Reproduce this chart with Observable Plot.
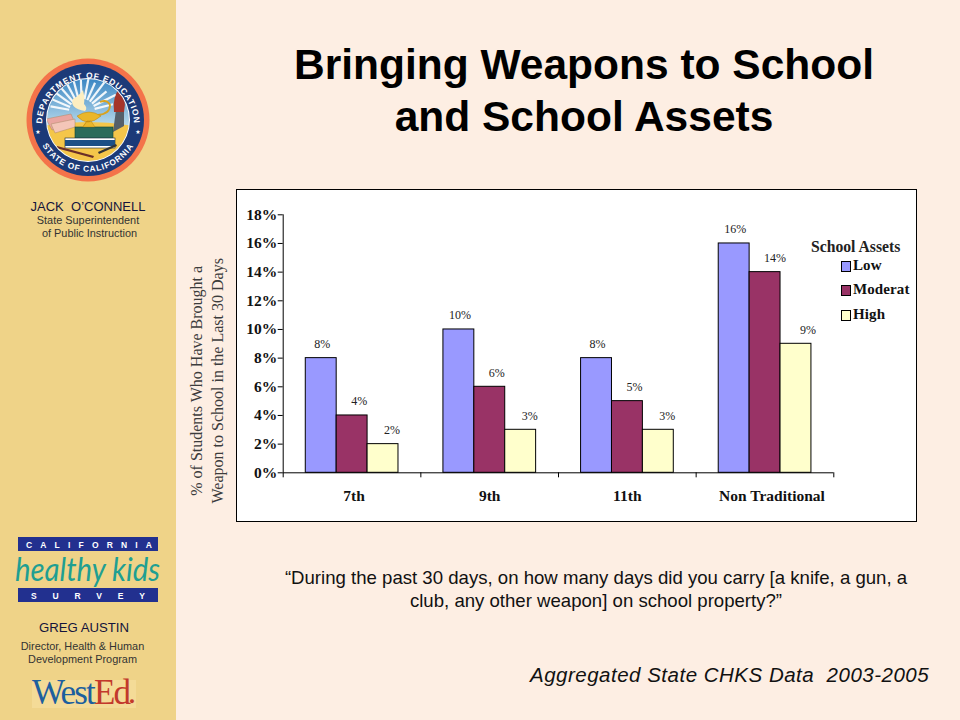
<!DOCTYPE html>
<html>
<head>
<meta charset="utf-8">
<script src="https://cdn.jsdelivr.net/npm/d3@7"></script>
<script src="https://cdn.jsdelivr.net/npm/@observablehq/plot@0.6"></script>
<style>
  html, body { margin: 0; padding: 0; }
  body { width: 960px; height: 720px; background: #fdeee3; position: relative; overflow: hidden; font-family: "Liberation Sans", Arial, sans-serif; color: #000; }
  .abs { position: absolute; white-space: pre; }
  .c { text-align: center; }
  #side { left: 0; top: 0; width: 176px; height: 720px; background: #efd388; }
  #box { left: 236px; top: 189px; width: 679px; height: 331px; background: #fff; border: 1px solid #000; }
  #chart { left: 186px; top: 189px; }
  .serifb { font-family: "Liberation Serif", serif; font-weight: bold; color: #111; }
  .swatch { width: 8px; height: 9px; border: 1px solid #000; }
</style>
</head>
<body>
<div class="abs" id="side"></div>

<svg class="abs" id="seal" style="left:18px;top:50px" width="140" height="140" viewBox="-70 -70 140 140"></svg>

<div class="abs c" style="left:0;width:176px;top:200px;font-size:13px;line-height:14px;color:#14143c">JACK  O’CONNELL</div>
<div class="abs c" style="left:0;width:176px;top:214px;font-size:10.9px;line-height:13px;color:#333">State Superintendent
 of Public Instruction</div>

<svg class="abs" id="chks" style="left:10px;top:530px;overflow:visible" width="160" height="80" viewBox="10 530 160 80">
  <rect x="18" y="537" width="140" height="14" fill="#22308f"/>
  <rect x="18" y="588" width="140" height="14" fill="#22308f"/>
  <text x="26" y="547.5" textLength="126" lengthAdjust="spacing" fill="#fff" font-size="8.5" font-weight="bold" font-family="Liberation Sans">CALIFORNIA</text>
  <text x="31" y="598.5" textLength="114" lengthAdjust="spacing" fill="#fff" font-size="8.5" font-weight="bold" font-family="Liberation Sans">SURVEY</text>
  <text x="15" y="581" textLength="145" lengthAdjust="spacingAndGlyphs" fill="#1f9f92" font-size="33" font-style="italic" font-family="Lato, 'Open Sans', sans-serif">healthy kids</text>
</svg>

<div class="abs c" style="left:0;width:168px;top:621px;font-size:13.2px;line-height:14px;color:#14143c">GREG AUSTIN</div>
<div class="abs c" style="left:0;width:165px;top:640px;font-size:10.9px;line-height:13px;color:#333">Director, Health &amp; Human
Development Program</div>

<div class="abs" style="left:32px;top:680px;width:104px;height:28px;background:#f4db97"></div>
<div class="abs" style="left:32px;top:675px;font-family:'Liberation Serif',serif;font-size:35px;line-height:36px;letter-spacing:-1.8px;color:#1d5f9e">West<span style="color:#c2392c">Ed</span><span style="font-size:9px;color:#c2392c;letter-spacing:0">●</span></div>

<div class="abs c" style="left:284px;width:600px;top:39px;font-size:42.5px;font-weight:bold;line-height:52px">Bringing Weapons to School
and School Assets</div>

<div class="abs" id="box"></div>
<div class="abs" id="chart"></div>
<div id="legend"></div>

<div class="abs c" style="left:246px;width:700px;top:566px;font-size:18.6px;line-height:23px;color:#111">“During the past 30 days, on how many days did you carry [a knife, a gun, a
club, any other weapon] on school property?”</div>

<div class="abs" style="left:530px;top:663px;font-size:20.5px;line-height:24px;font-style:italic;letter-spacing:0.5px;color:#111">Aggregated State CHKS Data  2003-2005</div>

<script>
// ---------- Data ----------
const grades = ["7th", "9th", "11th", "Non Traditional"];
const low = [8, 10, 8, 16];
const moderate = [4, 6, 5, 14];
const high = [2, 3, 3, 9];
const seriesNames = ["Low", "Moderat", "High"];
const seriesColors = ["#9999ff", "#993366", "#ffffcc"];
const yTicks = [0, 2, 4, 6, 8, 10, 12, 14, 16, 18];
const yLabel = "% of Students Who Have Brought a\nWeapon to School in the Last 30 Days";
const legendTitle = "School Assets";

// ---------- Table ----------
const rows = [low, moderate, high].flatMap((values, s) =>
  values.map((value, g) => ({grade: grades[g], g, s, value, series: seriesNames[s]}))
);

// ---------- Layout ----------
const serif = '"Liberation Serif", "Times New Roman", serif';
const W = 735, H = 333, mL = 96.7, mR = 87.7, mT = 25.3, mB = 49.7;
const bandPx = (W - mL - mR) / grades.length;
const barStart = 0.164, barWidth = 0.2245;       // fractions of a category band
const nudge = d => (d.s === 0 ? 1 : d.s === 1 ? 7 : 9) + (d.g === 3 && d.s > 0 ? 3 : 0);  // label offsets, px

const chart = Plot.plot({
  width: W, height: H,
  marginLeft: mL, marginRight: mR, marginTop: mT, marginBottom: mB,
  style: {background: "transparent", fontFamily: serif, overflow: "visible"},
  x: {domain: [0, grades.length], axis: null},
  y: {domain: [0, 18], axis: null},
  marks: [
    Plot.rectY(rows, {
      x1: d => d.g + barStart + d.s * barWidth,
      x2: d => d.g + barStart + (d.s + 1) * barWidth,
      y1: 0, y2: "value",
      fill: d => seriesColors[d.s],
      stroke: "#000", strokeWidth: 1
    }),
    Plot.ruleX([0], {y1: 0, y2: 18, stroke: "#000"}),
    Plot.ruleY([0], {x1: 0, x2: grades.length, stroke: "#000"}),
    Plot.axisY({
      ticks: yTicks, tickFormat: d => d + "%", tickSize: 5, tickPadding: 1,
      label: null, fontSize: 15.5, fontWeight: "bold", fontFamily: serif,
      color: "#111", stroke: "#000", strokeOpacity: 1
    }),
    Plot.ruleX(d3.range(grades.length + 1), {x: d => d, y1: 0, y2: -0.35, stroke: "#000", clip: false}),
    Plot.text(rows, {
      x: d => d.g + barStart + (d.s + 0.5) * barWidth + nudge(d) / bandPx,
      y: "value", text: d => d.value + "%",
      dy: -14, fontSize: 12, fontFamily: serif, fill: "#222"
    }),
    Plot.text(grades, {
      x: (d, i) => i + 0.5 + (i === 3 ? 7 : i === 0 ? 2 : 0) / bandPx,
      y: 0, text: d => d, dy: 23,
      fontSize: 15.5, fontWeight: "bold", fontFamily: serif, fill: "#111"
    }),
    Plot.text([yLabel], {
      frameAnchor: "left", textAnchor: "middle", rotate: -90, text: d => d, dx: -77, dy: 37,
      fontSize: 16, fontFamily: serif, fill: "#3c3c3c", lineHeight: 1.31
    })
  ]
});
document.getElementById("chart").append(chart);

// ---------- Legend ----------
const legend = document.getElementById("legend");
const addDiv = (cls, css, text) => {
  const el = document.createElement("div");
  el.className = "abs " + cls;
  el.style.cssText = css;
  if (text) el.textContent = text;
  legend.append(el);
};
addDiv("serifb", "left:811px;top:239px;font-size:15.7px;line-height:16px;color:#222", legendTitle);
seriesNames.forEach((name, i) => {
  const top = [261, 285, 310][i];
  addDiv("swatch", `left:841px;top:${top}px;background:${seriesColors[i]}`);
  addDiv("serifb", `left:853px;top:${top - 4}px;font-size:15px;line-height:17px;letter-spacing:0.1px`, name);
});

// ---------- Seal artwork (decorative) ----------
const rays = d3.range(-80, 81, 13).map(a => {
  const t = (a - 90) * Math.PI / 180;
  const r1 = 13, r2 = a % 2 ? 38 : 32;
  return `<line x1="${-6 + r1 * Math.cos(t)}" y1="${-8 + r1 * Math.sin(t)}" x2="${-6 + r2 * Math.cos(t)}" y2="${-8 + r2 * Math.sin(t)}" stroke="#fff" stroke-width="2.2" stroke-opacity=".9"/>`;
}).join("");
document.getElementById("seal").innerHTML = `
  <defs>
    <linearGradient id="sky" x1="0" y1="0" x2="0" y2="1"><stop offset="0" stop-color="#2f7fc0"/><stop offset=".65" stop-color="#cde8f2"/></linearGradient>
    <clipPath id="inner"><circle r="41"/></clipPath>
    <path id="topArc" d="M -45 14 A 46 46 0 1 1 45 14"/>
    <path id="botArc" d="M -52.5 6 A 53 53 0 0 0 52.5 6"/>
  </defs>
  <circle r="61.5" fill="#f4734a"/>
  <circle r="56" fill="#1c3a78"/>
  <circle r="42" fill="#fff"/>
  <g clip-path="url(#inner)">
    <rect x="-45" y="-45" width="90" height="90" fill="url(#sky)"/>
    ${rays}
    <path d="M -45 6 Q 0 -2 45 6 L 45 45 L -45 45 Z" fill="#f4c64a"/>
    <path d="M -42 -1 L -17 -6 L -13 3 L -36 10 Z" fill="#eaa6a0" stroke="#a86" stroke-width=".5"/>
    <path d="M -37 4 L -13 -1 L -13 7 L -33 13 Z" fill="#f4c6b8" stroke="#a86" stroke-width=".5"/>
    <path d="M 25 12 L 36 6 L 36 -10 L 28 -10 Z" fill="#55606a"/>
    <path d="M 26 -8 Q 24 -22 32 -33 Q 39 -22 36 -8 Z" fill="#a5342a"/>
    <rect x="-13" y="7" width="38" height="12" fill="#2b6b5a" stroke="#143" stroke-width=".6"/>
    <rect x="-23" y="18" width="50" height="10" fill="#fff" stroke="#123" stroke-width=".6"/>
    <rect x="-23" y="20" width="50" height="6" fill="#1c4f86"/>
    <path d="M -31 26 L 6 36 L 5 38 L -32 28 Z" fill="#6b2f28"/>
    <path d="M 10 32 L 28 24 L 29 26 L 11 34 Z" fill="#333"/>
    <path d="M -10 -3 Q 2 -7 10 -5 Q 22 -6 22 -15 Q 19 -21 12 -18 M 4 6 L -4 6 L -1 2 L -1 1 L 1 1 Z" fill="none" stroke="#d9a21e" stroke-width="1.8"/>
    <path d="M -11 -4 Q 1 -12 13 -4 Q 6 2 0 2 Q -6 2 -11 -4 Z M -5 7 L 7 7 L 3 1 L -1 1 Z" fill="#eab62a" stroke="#a87a12" stroke-width=".4"/>
    <path d="M -3 -9 Q -19 -12 -15 -21 Q -9 -24 -5 -30 Q -3 -22 -4 -16 Q 0 -12 -3 -9 Z" fill="#fdeec0"/>
  </g>
  <g fill="#fff" font-family="Liberation Sans" font-weight="bold" font-size="8.4" text-anchor="middle" letter-spacing="0.85">
    <text><textPath href="#topArc" startOffset="50%">DEPARTMENT OF EDUCATION</textPath></text>
    <text><textPath href="#botArc" startOffset="50%">STATE OF CALIFORNIA</textPath></text>
  </g>
  <g fill="#fff" font-family="DejaVu Sans" font-size="6" text-anchor="middle">
    <text x="-50" y="14">★</text>
    <text x="50" y="14">★</text>
  </g>`;
</script>
</body>
</html>
